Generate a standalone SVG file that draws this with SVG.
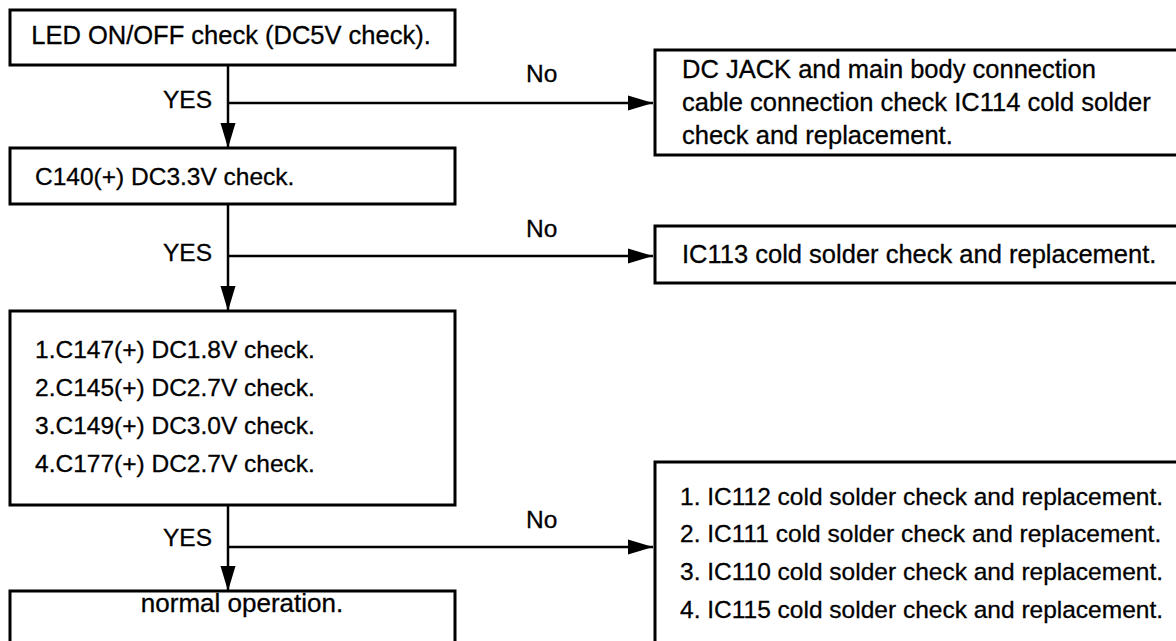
<svg xmlns="http://www.w3.org/2000/svg" width="1176" height="641" viewBox="0 0 1176 641">
<defs>
<marker id="ah" markerUnits="userSpaceOnUse" markerWidth="26" markerHeight="16" refX="25" refY="8" orient="auto">
<path d="M0,0.5 L25,8 L0,15.5 Z" fill="#000"/>
</marker>
<style>
.box{fill:#fff;stroke:#000;stroke-width:3}
.t{font-family:"Liberation Sans",Arial,Helvetica,sans-serif;font-size:24.5px;fill:#000;stroke:#000;stroke-width:0.3}
.l{font-size:25.5px}
.c{stroke:#000;stroke-width:2.5;fill:none}
</style>
</defs>
<rect width="1176" height="641" fill="#fff"/>
<g id="connectors">
<line class="c" x1="228" y1="65" x2="228" y2="148" marker-end="url(#ah)"/>
<line class="c" x1="228" y1="103" x2="653" y2="103" marker-end="url(#ah)"/>
<line class="c" x1="228" y1="204" x2="228" y2="311" marker-end="url(#ah)"/>
<line class="c" x1="228" y1="256" x2="653" y2="256" marker-end="url(#ah)"/>
<line class="c" x1="228" y1="505" x2="228" y2="591" marker-end="url(#ah)"/>
<line class="c" x1="228" y1="547" x2="653" y2="547" marker-end="url(#ah)"/>
<text class="t" x="212" y="108" text-anchor="end">YES</text>
<text class="t" x="526" y="82">No</text>
<text class="t" x="212" y="261" text-anchor="end">YES</text>
<text class="t" x="526" y="237">No</text>
<text class="t" x="212" y="546" text-anchor="end">YES</text>
<text class="t" x="526" y="528">No</text>
</g>
<g id="n1">
<rect class="box" x="10" y="10" width="445" height="55"/>
<text class="t l" x="231" y="44" text-anchor="middle">LED ON/OFF check (DC5V check).</text>
</g>
<g id="n2">
<rect class="box" x="10" y="148" width="445" height="56"/>
<text class="t" x="35" y="185">C140(+) DC3.3V check.</text>
</g>
<g id="n3">
<rect class="box" x="10" y="311" width="445" height="194"/>
<text class="t" x="35" y="358">1.C147(+) DC1.8V check.</text>
<text class="t" x="35" y="396">2.C145(+) DC2.7V check.</text>
<text class="t" x="35" y="434">3.C149(+) DC3.0V check.</text>
<text class="t" x="35" y="472">4.C177(+) DC2.7V check.</text>
</g>
<g id="n4">
<rect class="box" x="10" y="591" width="445" height="80"/>
<text class="t" x="242" y="612" text-anchor="middle" style="font-size:26px">normal operation.</text>
</g>
<g id="n5">
<rect class="box" x="655" y="50" width="540" height="105"/>
<text class="t l" x="682" y="78">DC JACK and main body connection</text>
<text class="t l" x="682" y="111">cable connection check IC114 cold solder</text>
<text class="t l" x="682" y="144">check and replacement.</text>
</g>
<g id="n6">
<rect class="box" x="655" y="226" width="540" height="57"/>
<text class="t l" x="682" y="263">IC113 cold solder check and replacement.</text>
</g>
<g id="n7">
<rect class="box" x="655" y="462" width="540" height="200"/>
<text class="t" x="680" y="505">1. IC112 cold solder check and replacement.</text>
<text class="t" x="680" y="542">2. IC111 cold solder check and replacement.</text>
<text class="t" x="680" y="580">3. IC110 cold solder check and replacement.</text>
<text class="t" x="680" y="618">4. IC115 cold solder check and replacement.</text>
</g>
</svg>
